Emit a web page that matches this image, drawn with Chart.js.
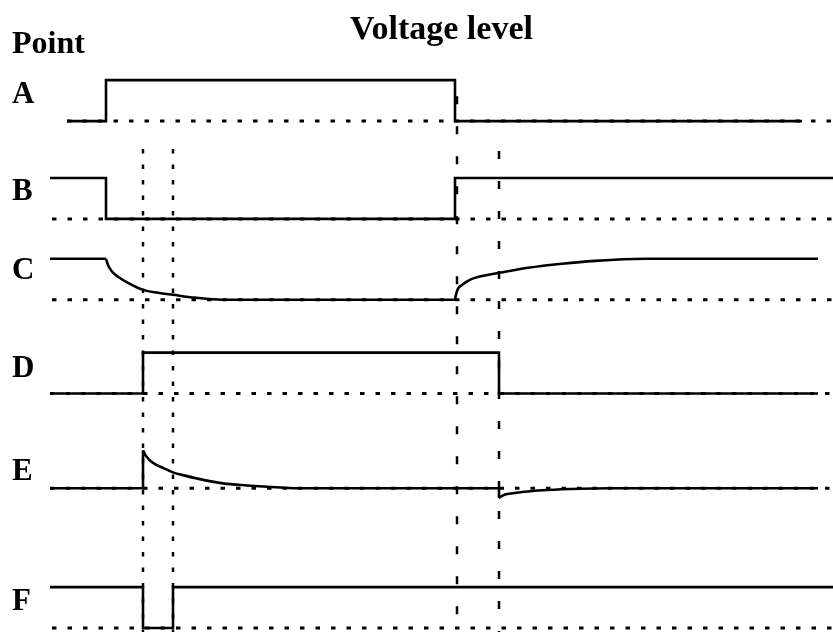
<!DOCTYPE html>
<html>
<head>
<meta charset="utf-8">
<title>Voltage level</title>
<script src="https://cdn.jsdelivr.net/npm/chart.js@4.4.1/dist/chart.umd.min.js"></script>
<style>
  html, body { margin: 0; padding: 0; background: #fff; }
  #chart { display: block; }
</style>
</head>
<body>
<canvas id="chart" width="833" height="632"></canvas>
<script>
// ===========================
// data
// ===========================
const points = ['A', 'B', 'C', 'D', 'E', 'F'];

// [time, level] pairs, level 0 = low, 1 = high
// null marks a sharp corner (curve piece starts fresh)
const traceA = [[1.7, 0], [5.6, 0], [5.6, 1], [40.5, 1], [40.5, 0], [75.2, 0]];
const traceB = [[0, 1], [5.6, 1], [5.6, 0], [40.5, 0], [40.5, 1], [78.3, 1]];
const traceC = [[0, 1], [5.6, 1], null,
                [5.6, 1], [5.8, 0.85], [6.0, 0.76], [6.3, 0.66], [6.8, 0.56], [7.8, 0.41], [9.3, 0.24],
                [10.8, 0.17], [12.3, 0.12], [14.5, 0.05], [17.2, 0], [40.5, 0], null,
                [40.5, 0], [40.6, 0.12], [40.8, 0.27], [41.2, 0.36], [41.6, 0.43], [42.2, 0.51], [43.6, 0.6],
                [45.0, 0.66], [47.8, 0.78], [51.2, 0.88], [54.5, 0.95], [59.5, 1], [76.8, 1]];
const traceD = [[0, 0], [9.3, 0], [9.3, 1], [44.9, 1], [44.9, 0], [76.8, 0]];
const traceE = [[0, 0], [9.3, 0], [9.3, 0.93], null,
                [9.3, 0.93], [9.5, 0.83], [9.7, 0.76], [10.0, 0.68], [10.5, 0.59], [11.1, 0.52], [12.3, 0.39],
                [13.5, 0.31], [14.7, 0.24], [17.3, 0.12], [19.7, 0.07], [23.0, 0.02], [25.0, 0], [44.9, 0],
                [44.9, -0.24], null,
                [44.9, -0.24], [45.1, -0.2], [45.5, -0.15], [46.3, -0.12], [48.0, -0.07], [49.7, -0.04],
                [53.0, -0.01], [56.0, 0], [76.8, 0]];
const traceF = [[0, 1], [9.3, 1], [9.3, 0], [12.3, 0], [12.3, 1], [78.3, 1]];
const traces = [traceA, traceB, traceC, traceD, traceE, traceF];

// where each dotted zero-level line starts
const zeroStart = [1.7, 0.2, 0.2, 0, 0, 0.2];
const timeEnd = 78.3;

// event markers
const dottedMarks = [9.3, 12.3];
const dashedMarks = [40.7, 44.9];

// ===========================
// layout (row placement on the y scale)
// ===========================
const rowBase = [51.2, 41.4, 33.3, 23.9, 14.4, 0.4];
const rowAmp = 4.1;
const labelPos = [53.8, 44.1, 36.2, 26.4, 16.0, 3.0];
const dottedTop = 48.4;
const dashedTop = [53.7, 48.2];

const serif = 'Liberation Serif';
const datasets = [];

// solid traces
traces.forEach((tr, i) => {
  let lastT = 0;
  const data = tr.map(p => {
    if (p === null) return { x: lastT, y: null };
    lastT = p[0];
    return { x: p[0], y: rowBase[i] + p[1] * rowAmp };
  });
  datasets.push({
    data,
    borderColor: '#000',
    borderWidth: 2.6,
    pointRadius: 0,
    spanGaps: false,
    cubicInterpolationMode: 'monotone',
    order: 0
  });
});

// dotted zero levels
rowBase.forEach((b, i) => {
  datasets.push({
    data: [{ x: zeroStart[i], y: b }, { x: timeEnd, y: b }],
    borderColor: '#000',
    borderWidth: 3,
    borderDash: [4.5, 11],
    pointRadius: 0,
    order: 1
  });
});

// vertical markers
dottedMarks.forEach(t => {
  datasets.push({
    data: [{ x: t, y: dottedTop }, { x: t, y: 0 }],
    borderColor: '#000',
    borderWidth: 2.5,
    borderDash: [4.5, 11],
    pointRadius: 0,
    order: 1
  });
});
dashedMarks.forEach((t, i) => {
  datasets.push({
    data: [{ x: t, y: dashedTop[i] }, { x: t, y: 0 }],
    borderColor: '#000',
    borderWidth: 2.5,
    borderDash: [8, 22],
    pointRadius: 0,
    order: 1
  });
});

new Chart(document.getElementById('chart'), {
  type: 'line',
  data: { datasets },
  options: {
    responsive: false,
    animation: false,
    devicePixelRatio: 1,
    layout: { padding: { left: 12, right: 0, top: 0, bottom: 0 } },
    plugins: {
      legend: { display: false },
      tooltip: { enabled: false },
      title: {
        display: true,
        text: 'Voltage level',
        fullSize: false,
        color: '#000',
        font: { family: serif, size: 34, weight: 'bold' },
        padding: { top: 10, bottom: -22 }
      },
      subtitle: {
        display: true,
        text: 'Point',
        align: 'start',
        fullSize: true,
        color: '#000',
        font: { family: serif, size: 32, weight: 'bold' },
        padding: { top: -3, bottom: 3 }
      }
    },
    scales: {
      x: { type: 'linear', display: false, min: 0, max: timeEnd },
      y: {
        type: 'linear',
        min: 0,
        max: 56.6,
        grid: { display: false },
        border: { display: false },
        ticks: {
          autoSkip: false,
          crossAlign: 'far',
          padding: 0,
          color: '#000',
          font: { family: serif, size: 31, weight: 'bold' },
          callback: (v, i) => points[i]
        },
        afterBuildTicks: axis => { axis.ticks = labelPos.map(v => ({ value: v })); },
        afterFit: axis => { axis.width = 38; axis.paddingTop = 0; axis.paddingBottom = 0; }
      }
    }
  }
});
</script>
</body>
</html>
